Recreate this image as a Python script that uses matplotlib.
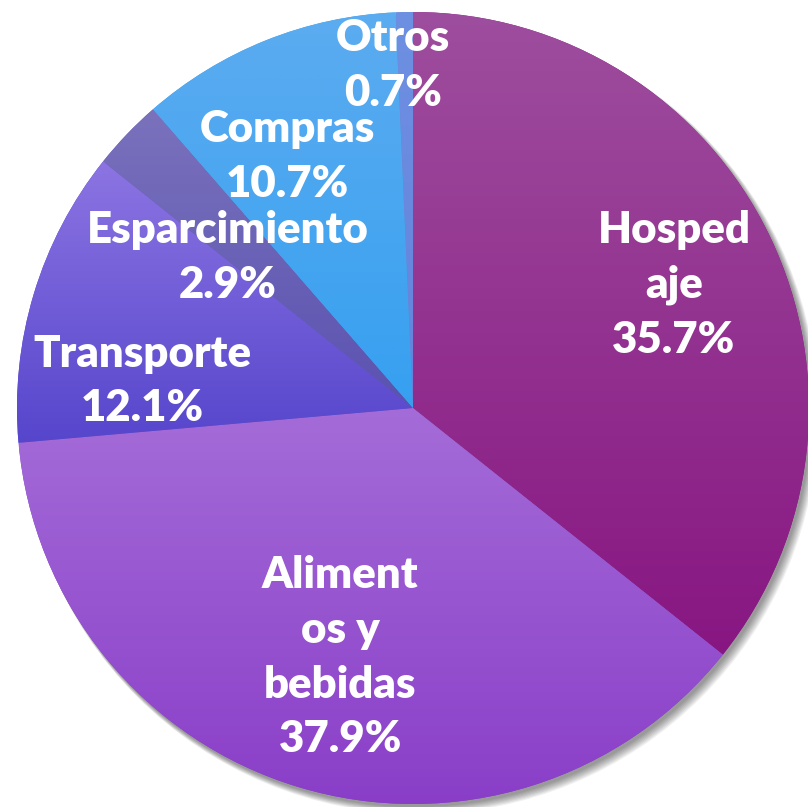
import numpy as np
import matplotlib.pyplot as plt
from matplotlib.colors import LinearSegmentedColormap
from matplotlib.patches import Circle

# data
labels = ['Hosped\naje', 'Aliment\nos y\nbebidas', 'Transporte', 'Esparcimiento', 'Compras', 'Otros']
values = [35.7, 37.9, 12.1, 2.9, 10.7, 0.7]
# gradient colours per slice (top, bottom)
top_colors = ['#9e4e9e', '#a46cd8', '#8c74e2', '#7a72bc', '#5cacf0', '#6e90e2']
bot_colors = ['#881682', '#8a3ec8', '#5646cc', '#5a52b0', '#36a0f0', '#6482dc']
# label centres in pie units (centre = 0,0, radius = 1)
label_pos = [(0.659, 0.311), (-0.184, -0.629), (-0.684, 0.068),
             (-0.467, 0.381), (-0.316, 0.636), (-0.05, 0.864)]

R_PX = 396.0
CX, CY = 413.0, 408.0
W, H = 808, 807

fig = plt.figure(figsize=(W / 100, H / 100), dpi=100)
ax = fig.add_axes([0, 0, 1, 1])
ax.axis('off')

# soft shadow
for i in range(8):
    ax.add_patch(Circle((0.006 + i * 0.0015, -0.008 - i * 0.0015), 1.0 + 0.001 * i,
                        color='#000000', alpha=0.06, lw=0, zorder=0))

wedges, _ = ax.pie(values, startangle=90, counterclock=False, radius=1.0,
                   colors=bot_colors, wedgeprops=dict(linewidth=0))

for w, c1, c2 in zip(wedges, top_colors, bot_colors):
    w.set_zorder(1)
    ext = w.get_path().get_extents()
    cmap = LinearSegmentedColormap.from_list('g', [c1, c2])
    grad = np.linspace(0, 1, 256).reshape(-1, 1)
    im = ax.imshow(grad, cmap=cmap, aspect='auto', origin='upper',
                   extent=[ext.x0, ext.x1, ext.y0, ext.y1], zorder=2,
                   interpolation='bilinear')
    im.set_clip_path(w)

ax.set_xlim(-CX / R_PX, (W - CX) / R_PX)
ax.set_ylim((CY - H) / R_PX, CY / R_PX)
ax.set_aspect('equal')

pct = [f'{v:.1f}%' for v in values]
for lab, p, (x, y) in zip(labels, pct, label_pos):
    ax.text(x, y, lab + '\n' + p, ha='center', va='center', color='white',
            fontsize=31.5, fontweight='heavy', family='Lato', linespacing=1.45,
            zorder=5)

fig.savefig('out.png', dpi=100)
